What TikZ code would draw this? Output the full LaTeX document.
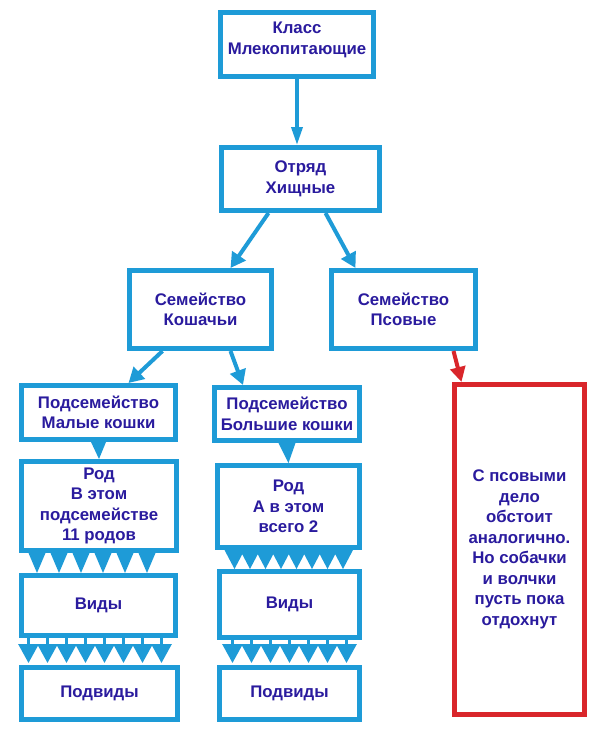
\documentclass[tikz,border=0pt]{standalone}
\usepackage{fontspec}
\setmainfont{Liberation Sans}
\usetikzlibrary{arrows.meta,calc}
\definecolor{cblue}{HTML}{1E9BD7}
\definecolor{ctext}{HTML}{2A1B9E}
\definecolor{cred}{HTML}{D9262B}
\begin{document}
\begin{tikzpicture}[x=1pt,y=1pt,
  box/.style={draw=cblue, line width=5pt, fill=white, inner sep=0pt, align=center,
    text=ctext, font=\fontsize{16.8}{20.5}\selectfont\bfseries},
  redbox/.style={box, draw=cred},
  txt/.style={inner sep=0pt, align=center, text=ctext, font=\fontsize{16.8}{20.5}\selectfont\bfseries},
  conn/.style={draw=cblue, line width=4pt, -{Triangle[length=15pt,width=16pt]}},
  topconn/.style={draw=cblue, line width=3.5pt, -{Triangle[length=18pt,width=11pt]}},
  redconn/.style={draw=cred, line width=4pt, -{Triangle[length=15pt,width=15pt]}},
  stemarrow/.style={draw=cblue, line width=3pt, -{Triangle[length=19pt,width=20pt]}},
  tri/.style={fill=cblue}
]
\useasboundingbox (0,0) rectangle (603,-732);

\node[box, minimum width=153, minimum height=64] (cls) at (297,-44.5) {};
\node[txt] (clstxt) at (297,-40) {Класс\\Млекопитающие};
\node[box, minimum width=158, minimum height=63] (otr) at (300.5,-179) {Отряд\\Хищные};
\node[box, minimum width=142, minimum height=78] (kosh) at (200.5,-309.5) {Семейство\\Кошачьи};
\node[box, minimum width=144, minimum height=78] (psov) at (403.5,-309.5) {Семейство\\Псовые};
\node[box, minimum width=154, minimum height=54] (malye) at (98.5,-412.5) {Подсемейство\\Малые кошки};
\node[box, minimum width=145, minimum height=53] (bolsh) at (287,-414) {Подсемейство\\Большие кошки};
\node[box, minimum width=155, minimum height=89] (rodL) at (99,-506) {Род\\В этом\\подсемействе\\11 родов};
\node[box, minimum width=142, minimum height=82] (rodR) at (288.5,-506.5) {Род\\А в этом\\всего 2};
\node[box, minimum width=154, minimum height=60] (vidL) at (98.5,-605.5) {Виды};
\node[box, minimum width=140, minimum height=66] (vidR) at (289.5,-604.5) {Виды};
\node[box, minimum width=156, minimum height=52] (podL) at (99.5,-693.5) {Подвиды};
\node[box, minimum width=140, minimum height=52] (podR) at (289.5,-693.5) {Подвиды};
\node[redbox, minimum width=130, minimum height=330] (note) at (519.5,-549.5)
  {С псовыми\\дело\\обстоит\\аналогично.\\Но собачки\\и волчки\\пусть пока\\отдохнут};

% connectors
\draw[topconn] (cls.south -| 297,0) -- (otr.north -| 297,0);
\draw[conn] ([xshift=-32]otr.south) -- ([xshift=30]kosh.north);
\draw[conn] ([xshift=25]otr.south) -- ([xshift=-48]psov.north);
\draw[conn] ([xshift=-38]kosh.south) -- ([xshift=30]malye.north);
\draw[conn] ([xshift=30]kosh.south) -- ([xshift=-44]bolsh.north);
\draw[redconn] ([xshift=50]psov.south) -- ([xshift=-58]note.north);

% single triangles
\fill[tri] ([xshift=-7.5]malye.south) -- ([xshift=7.5]malye.south) -- ([xshift=0]rodL.north) -- cycle;
\fill[tri] ([xshift=-8.5]bolsh.south) -- ([xshift=8.5]bolsh.south) -- ([xshift=0]rodR.north) -- cycle;

% left: Род -> Виды
\foreach \o in {-62,-40,-18,4,26,48}
  \fill[tri] ([xshift=\o-8.5]rodL.south) -- ([xshift=\o+8.5]rodL.south) -- ([xshift=\o+0.5]vidL.north) -- cycle;
% right: Род -> Виды
\foreach \o in {-54,-38.5,-23,-7.5,8,23.5,39,54.5}
  \fill[tri] ([xshift=\o-10]rodR.south) -- ([xshift=\o+10]rodR.south) -- ([xshift=\o-1]vidR.north) -- cycle;
% left: Виды -> Подвиды
\foreach \o in {-70,-51,-32,-13,6,25,44,63}
  \draw[stemarrow] ([xshift=\o]vidL.south) -- ([xshift=\o-1,yshift=2]podL.north);
% right: Виды -> Подвиды
\foreach \o in {-57,-38,-19,0,19,38,57}
  \draw[stemarrow] ([xshift=\o]vidR.south) -- ([xshift=\o,yshift=2]podR.north);
\end{tikzpicture}
\end{document}
